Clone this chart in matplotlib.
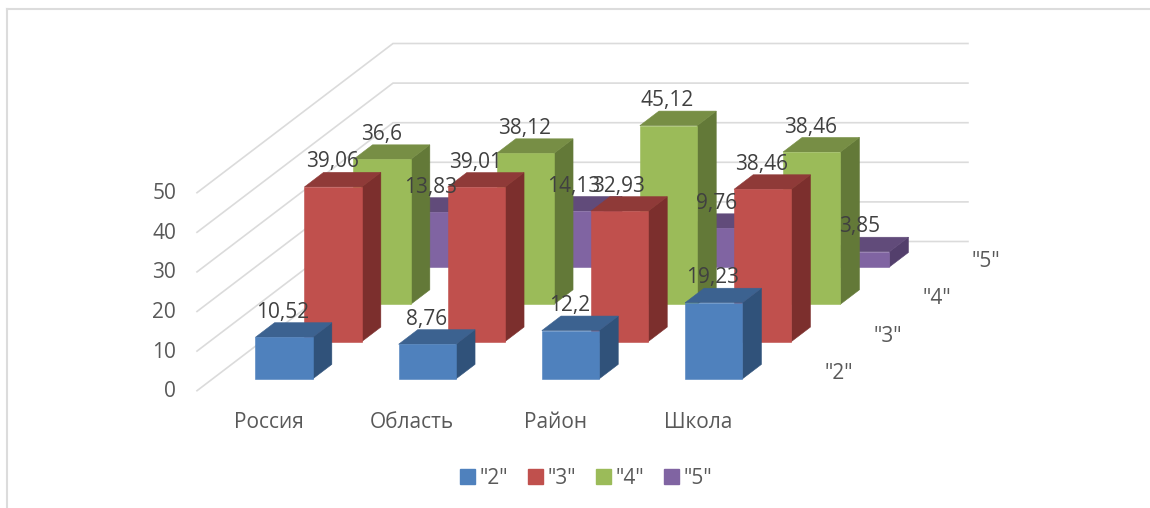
import matplotlib
matplotlib.use("Agg")
import matplotlib.pyplot as plt
from matplotlib.patches import Polygon, Patch
from matplotlib.lines import Line2D
from matplotlib.transforms import ScaledTranslation

plt.rcParams['font.family'] = ['Open Sans', 'DejaVu Sans']

categories = ["Россия", "Область", "Район", "Школа"]
series_names = ['"2"', '"3"', '"4"', '"5"']
grade2 = [10.52, 8.76, 12.2, 19.23]
grade3 = [39.06, 39.01, 32.93, 38.46]
grade4 = [36.6, 38.12, 45.12, 38.46]
grade5 = [13.83, 14.13, 9.76, 3.85]
y_ticks = [0, 10, 20, 30, 40, 50]
labels = [["10,52", "8,76", "12,2", "19,23"],
          ["39,06", "39,01", "32,93", "38,46"],
          ["36,6", "38,12", "45,12", "38,46"],
          ["13,83", "14,13", "9,76", "3,85"]]
series = [grade2, grade3, grade4, grade5]

W, H = 1150, 508
FS = 15
front = ["#4F81BD", "#C0504D", "#9BBB59", "#8064A2"]
top = ["#3C6290", "#8F3A38", "#778E45", "#614B7A"]
side = ["#30527A", "#7C2F2D", "#637938", "#533F6C"]
GRID = "#DBDBDB"
TXT = "#595959"
LBL = "#404040"

fig = plt.figure(figsize=(W / 100, H / 100), dpi=100)
L, R, B, T = 197, 769.8, 390.7, 192.7
ax = fig.add_axes([L / W, 1 - B / H, (R - L) / W, (B - T) / H])
ax.set_xlim(-0.5, 3.5)
ax.set_ylim(0, 50)
for s in ax.spines.values():
    s.set_visible(False)
ax.set_xticks(range(4), categories)
ax.set_yticks(y_ticks)
ax.tick_params(length=0, labelsize=FS, labelcolor=TXT)
ax.tick_params(axis='x', pad=15)
ax.tick_params(axis='y', pad=15)
ax.patch.set_alpha(0)
for lab in ax.get_yticklabels():
    lab.set_transform(lab.get_transform() + ScaledTranslation(0, 1.5 / 100, fig.dpi_scale_trans))

# oblique projection: one unit of depth in axis units
DX = 49 / 143.2
DY = 37.3 / 3.96
BAR_W = 0.4
BAR_D = 0.39
Z0 = 0.316


def proj(x, v, z):
    return x + DX * z, v + DY * z


# walls
for v in y_ticks:
    xa, ya = proj(-0.5, v, 0)
    xb, yb = proj(-0.5, v, 4)
    xc, yc = proj(3.515, v, 4)
    ax.add_line(Line2D([xa, xb, xc], [ya, yb, yc], color=GRID, lw=1.2,
                       clip_on=False, zorder=1, solid_joinstyle='miter'))

# bars, back row first
zo = 2
for j in range(3, -1, -1):
    for i in range(4):
        v = series[j][i]
        z1, z2 = j + Z0, j + Z0 + BAR_D
        x1, x2 = i - BAR_W / 2, i + BAR_W / 2
        f = [proj(x1, 0, z1), proj(x2, 0, z1), proj(x2, v, z1), proj(x1, v, z1)]
        t = [proj(x1, v, z1), proj(x2, v, z1), proj(x2, v, z2), proj(x1, v, z2)]
        s = [proj(x2, 0, z1), proj(x2, 0, z2), proj(x2, v, z2), proj(x2, v, z1)]
        for pts, col in ((s, side[j]), (t, top[j]), (f, front[j])):
            ax.add_patch(Polygon(pts, closed=True, facecolor=col, edgecolor=col,
                                 lw=0.4, clip_on=False, zorder=zo))
        zo += 1

# value labels on top of all bars
for j in range(4):
    for i in range(4):
        v = series[j][i]
        ax.annotate(labels[j][i], proj(i, v, j + Z0), xytext=(-0.7, 18),
                    textcoords='offset points', ha='center', va='center',
                    fontsize=FS, color=LBL, annotation_clip=False, zorder=100)

# depth axis labels
for j, name in enumerate(series_names):
    ax.annotate(name, proj(3.5, 0, j), xytext=(49.5, 12.5), textcoords='offset points',
                ha='center', va='center', fontsize=FS, color=TXT,
                annotation_clip=False, zorder=100)

# chart border
for xs, ys in (([6.5, 6.5], [9, 508]), ([6.5, 1150], [9, 9])):
    fig.add_artist(Line2D([x / W for x in xs], [1 - y / H for y in ys],
                          color="#DCDCDC", lw=1.5))

handles = [Patch(facecolor=c, edgecolor=c) for c in front]
fig.legend(handles, series_names, loc='center', bbox_to_anchor=(586 / W, 1 - 478 / H),
           ncol=4, frameon=False, fontsize=FS, labelcolor=TXT, handlelength=0.72,
           handleheight=0.72, handletextpad=0.22, columnspacing=0.95)

fig.savefig("out.png", dpi=100)
